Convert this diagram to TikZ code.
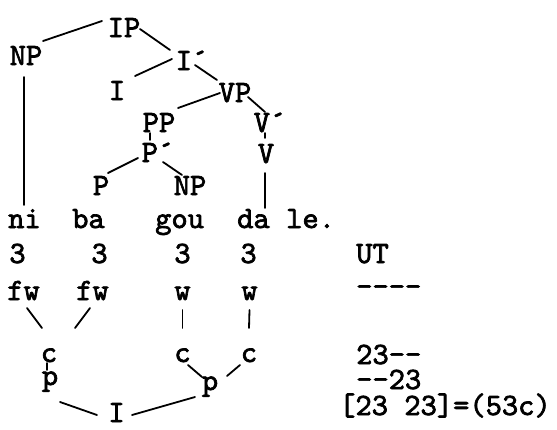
\documentclass[tikz,border=0pt]{standalone}
\usepackage{fontspec}
\newfontfamily\treefont{lmmono10-regular.otf}[FakeBold=2.2]
\usetikzlibrary{calc}
\begin{document}
\begin{tikzpicture}[x=1pt,y=-1pt,
  lab/.style={inner sep=0pt,anchor=base,font=\treefont\fontsize{31}{34}\selectfont},
  labw/.style={lab,anchor=base west},
  edge/.style={line width=1.8pt,line cap=round}]
\useasboundingbox (0,0) rectangle (557,429);
% tree
\node[lab] (ip)   at (124,37)  {IP};
\node[lab] (np1)  at (26,65)   {NP};
\node[lab] (ibar) at (192,70)  {I´};
\node[lab] (i1)   at (117,100) {I};
\node[lab] (vp)   at (235,102) {VP};
\node[lab] (pp)   at (159,132) {PP};
\node[lab] (vbar) at (270,132) {V´};
\node[lab] (pbar) at (158,162) {P´};
\node[lab] (v)    at (266,163) {V};
\node[lab] (p)    at (101,195) {P};
\node[lab] (np2)  at (190,195) {NP};
% words
\node[labw] (ni)  at (8,228)   {ni};
\node[labw] (ba)  at (72,228)  {ba};
\node[labw] (gou) at (155,228) {gou};
\node[labw] (da)  at (237,228) {da};
\node[labw] (le)  at (286,228) {le.};
% tones
\node[lab] (t1) at (17.5,263)  {3};
\node[lab] (t2) at (99.5,263)  {3};
\node[lab] (t3) at (182.5,263) {3};
\node[lab] (t4) at (248.5,263) {3};
\node[lab] (fw1) at (23.5,300) {fw};
\node[lab] (fw2) at (92.5,300) {fw};
\node[lab] (w1)  at (182.5,300) {w};
\node[lab] (w2)  at (249.5,300) {w};
\node[lab] (c1)  at (49,362)   {c};
\node[lab] (c2)  at (182.5,362) {c};
\node[lab] (c3)  at (249,362)  {c};
\node[lab] (p1)  at (50,385)   {p};
\node[lab] (p2)  at (210,390)  {p};
\node[lab] (ibot) at (116.5,422) {I};
% right column
\node[labw] (ut) at (356,263) {UT};
\node[labw] (dd) at (356,296) {----};
\node[labw] (r1) at (356,364) {23--};
\node[labw] (r2) at (356,389) {--23};
\node[labw] (r3) at (339,415) {[23 23]=(53c)};
% connectors
\draw[edge] ([shift={(17,-24)}]np1.base) -- ([shift={(-22,-16)}]ip.base);
\draw[edge] ([shift={(16,-8)}]ip.base) -- ([shift={(-22,-20)}]ibar.base);
\draw[edge] ([shift={(18,-24)}]i1.base) -- ([shift={(-20,-11)}]ibar.base);
\draw[edge] ([shift={(3,-5)}]ibar.base) -- ([shift={(-18,-22)}]vp.base);
\draw[edge] ([shift={(-15,-9)}]vp.base) -- ([shift={(19,-24)}]pp.base);
\draw[edge] ([shift={(13,-5)}]vp.base) -- ([shift={(-5,-20)}]vbar.base);
\draw[edge] ([shift={(-5,1)}]vbar.base) -- ([shift={(-1,-25)}]v.base);
\draw[edge] ([shift={(-9,1)}]pp.base) -- ([shift={(-8,-22)}]pbar.base);
\draw[edge] ([shift={(-20,-4)}]pbar.base) -- ([shift={(7,-22)}]p.base);
\draw[edge] ([shift={(5,0)}]pbar.base) -- ([shift={(-8,-20)}]np2.base);
\draw[edge] ([shift={(-2,12)}]np1.base) -- ([shift={(16,-23)}]ni.base west);
\draw[edge] ([shift={(-1,10)}]v.base) -- ([shift={(28,-20)}]da.base west);
\draw[edge] ([shift={(3.5,8)}]fw1.base) -- ([shift={(-7,-34)}]c1.base);
\draw[edge] ([shift={(-2.5,8)}]fw2.base) -- ([shift={(26,-34)}]c1.base);
\draw[edge] ([shift={(0,10)}]w1.base) -- ([shift={(0,-34)}]c2.base);
\draw[edge] ([shift={(0,10)}]w2.base) -- ([shift={(0,-34)}]c3.base);
\draw[edge] ([shift={(-2,1)}]c1.base) -- ([shift={(-3,-15)}]p1.base);
\draw[edge] ([shift={(5.5,3)}]c2.base) -- ([shift={(-8,-13)}]p2.base);
\draw[edge] ([shift={(-9,3)}]c3.base) -- ([shift={(17,-14)}]p2.base);
\draw[edge] ([shift={(10,17)}]p1.base) -- ([shift={(-19.5,-7)}]ibot.base);
\draw[edge] ([shift={(-15,7)}]p2.base) -- ([shift={(15.5,-7)}]ibot.base);
\end{tikzpicture}
\end{document}
